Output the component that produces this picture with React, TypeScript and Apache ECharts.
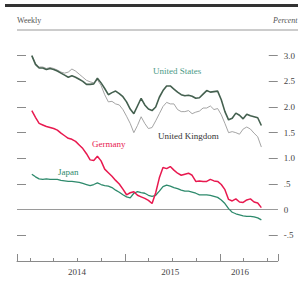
import React, { useEffect, useRef } from "react";
import * as echarts from "echarts";

// Biweekly observations starting 2014-01-08
const START = Date.UTC(2014, 0, 8);
const STEP_DAYS = 14;

const unitedStates = [
  3.0, 2.83, 2.76, 2.76, 2.73, 2.75, 2.73, 2.7, 2.66, 2.62, 2.58, 2.61, 2.58, 2.54, 2.5, 2.44,
  2.44, 2.45, 2.56, 2.47, 2.36, 2.24, 2.28, 2.31, 2.26, 2.2, 2.1, 1.96, 1.87, 2.02, 2.17, 2.04,
  1.96, 1.93, 2.0, 2.19, 2.32, 2.41, 2.41, 2.35, 2.29, 2.24, 2.22, 2.23, 2.21, 2.17, 2.18, 2.25,
  2.32, 2.29, 2.3, 2.31, 2.14, 1.91, 1.75, 1.78, 1.88, 1.84, 1.77, 1.86, 1.83, 1.81, 1.79, 1.64,
];
const unitedKingdom = [
  3.0, 2.85, 2.78, 2.78, 2.75, 2.77, 2.75, 2.72, 2.68, 2.66, 2.68, 2.74, 2.7, 2.64, 2.58, 2.52,
  2.49, 2.47, 2.53, 2.42, 2.24, 2.1, 2.11, 2.06, 2.04, 1.95, 1.82, 1.68, 1.5, 1.64, 1.81, 1.68,
  1.58, 1.6, 1.73, 1.87, 2.01, 2.09, 2.06, 2.06, 1.95, 1.91, 1.91, 1.93, 1.87, 1.9, 1.92, 1.98,
  1.98, 2.02, 1.95, 1.97, 1.85, 1.68, 1.5, 1.52, 1.5, 1.47, 1.57, 1.61, 1.57, 1.49, 1.42, 1.22,
];
const germany = [
  1.93, 1.8, 1.68, 1.65, 1.62, 1.6, 1.58, 1.55, 1.49, 1.44, 1.39, 1.37, 1.33, 1.26, 1.19, 1.09,
  0.97, 0.96, 1.04, 0.95, 0.79, 0.72, 0.65, 0.57, 0.5, 0.4, 0.29, 0.33, 0.35, 0.28, 0.25, 0.22,
  0.18, 0.12, 0.33, 0.62, 0.82, 0.8, 0.84, 0.77, 0.71, 0.67, 0.69, 0.71, 0.67, 0.55, 0.56, 0.55,
  0.55, 0.59, 0.56, 0.55, 0.49, 0.39, 0.2, 0.17, 0.21, 0.15, 0.14, 0.19, 0.21, 0.15, 0.13, 0.04,
];
const japan = [
  0.69, 0.64, 0.6, 0.59, 0.6, 0.59, 0.59, 0.59, 0.57, 0.56, 0.55, 0.55, 0.54, 0.53, 0.51, 0.49,
  0.47, 0.49, 0.52, 0.49, 0.47, 0.46, 0.43, 0.38, 0.34, 0.29, 0.25, 0.23, 0.32, 0.35, 0.33, 0.32,
  0.28, 0.26, 0.28, 0.36, 0.45, 0.48, 0.46, 0.43, 0.41, 0.38, 0.36, 0.36, 0.34, 0.32, 0.29, 0.29,
  0.29, 0.28, 0.26, 0.24, 0.19, 0.12, 0.02, -0.05, -0.08, -0.1, -0.12, -0.13, -0.13, -0.14, -0.16, -0.2,
];

const yTicks = [-0.5, 0, 0.5, 1.0, 1.5, 2.0, 2.5, 3.0];
const yTickLabels = ["-.5", "0", ".5", "1.0", "1.5", "2.0", "2.5", "3.0"];
const yearLabels = ["2014", "2015", "2016"];
const yearLabelDates = ["2014-07-01", "2015-06-24", "2016-03-18"];
const yearTickDates = ["2013-11-12", "2015-01-01", "2016-01-01", "2016-08-10"];
const minorTickDates = [
  "2014-01-01", "2014-04-01", "2014-07-01", "2014-10-01",
  "2015-04-01", "2015-07-01", "2015-10-01", "2016-04-01", "2016-07-01",
];

const X_MIN = "2013-11-12";
const X_MAX = "2016-08-10";

const ts = (s: string) => {
  const [y, m, d] = s.split("-").map(Number);
  return Date.UTC(y, m - 1, d);
};

const dates = unitedStates.map((_, i) => START + i * STEP_DAYS * 86400000);
const pairs = (vals: number[]) => vals.map((v, i) => [dates[i], v]);

const SERIF = "'Liberation Serif', 'DejaVu Serif', serif";

export default function App() {
  const ref = useRef<HTMLDivElement>(null);
  useEffect(() => {
    document.body.style.margin = "0";
    const chart = echarts.init(ref.current!, null, { renderer: "svg" });
    const labelMap: Record<string, string> = {};
    yTicks.forEach((v, i) => (labelMap[String(v)] = yTickLabels[i]));
    const yearOf = (v: number) => {
      let best = "";
      let bd = Infinity;
      yearLabelDates.forEach((d, i) => {
        const dd = Math.abs(ts(d) - v);
        if (dd < bd) {
          bd = dd;
          best = yearLabels[i];
        }
      });
      return best;
    };

    const yBase = {
      type: "value",
      min: -1,
      max: 3.5,
      interval: 0.5,
      splitLine: { show: false },
      axisLine: { show: false, onZero: false },
      axisTick: {
        show: true,
        inside: true,
        length: 9,
        customValues: yTicks,
        lineStyle: { color: "#8a8a8a", width: 1 },
      },
    };

    const xMin = ts(X_MIN);
    const xMax = ts(X_MAX);

    chart.setOption({
      animation: false,
      grid: { left: 17, right: 20, top: 30, bottom: 20 },
      xAxis: [
        {
          type: "value",
          min: xMin,
          max: xMax,
          splitLine: { show: false },
          axisLine: { show: true, onZero: false, lineStyle: { color: "#8a8a8a", width: 1 } },
          axisTick: {
            show: true,
            inside: true,
            length: 7,
            customValues: yearTickDates.map(ts),
            lineStyle: { color: "#8a8a8a" },
          },
          axisLabel: {
            show: true,
            customValues: yearLabelDates.map(ts),
            formatter: (v: number) => yearOf(v),
            fontFamily: SERIF,
            fontSize: 9,
            color: "#444",
            margin: 6,
          },
        },
        {
          type: "value",
          min: xMin,
          max: xMax,
          position: "bottom",
          splitLine: { show: false },
          axisLine: { show: false, onZero: false },
          axisTick: {
            show: true,
            inside: true,
            length: 3,
            customValues: minorTickDates.map(ts),
            lineStyle: { color: "#8a8a8a" },
          },
          axisLabel: { show: false },
        },
      ],
      yAxis: [
        {
          ...yBase,
          position: "right",
          axisLabel: {
            show: true,
            customValues: yTicks,
            formatter: (v: number) => labelMap[String(v)] ?? "",
            fontFamily: SERIF,
            fontSize: 9,
            color: "#444",
            margin: 6,
            align: "left",
          },
        },
        {
          ...yBase,
          position: "left",
          axisLabel: { show: false },
        },
      ],
      series: [
        {
          name: "United Kingdom",
          type: "line",
          data: pairs(unitedKingdom),
          showSymbol: false,
          lineStyle: { color: "#9a9a9a", width: 0.9 },
          z: 2,
        },
        {
          name: "United States",
          type: "line",
          data: pairs(unitedStates),
          showSymbol: false,
          lineStyle: { color: "#44604f", width: 1.6 },
          z: 3,
        },
        {
          name: "Japan",
          type: "line",
          data: pairs(japan),
          showSymbol: false,
          lineStyle: { color: "#2e8a6c", width: 1.3 },
          z: 3,
        },
        {
          name: "Germany",
          type: "line",
          data: pairs(germany),
          showSymbol: false,
          lineStyle: { color: "#e8194f", width: 1.5 },
          z: 4,
          markLine: {
            silent: true,
            symbol: ["none", "none"],
            label: { show: false },
            lineStyle: { color: "#9a9a9a", width: 1, type: "solid" },
            data: [{ yAxis: 0 }],
            z: 1,
          },
        },
      ],
      graphic: [
        { type: "rect", shape: { x: 5, y: 4, width: 293, height: 3 }, style: { fill: "#333" } },
        { type: "line", shape: { x1: 17, y1: 30, x2: 298, y2: 30 }, style: { stroke: "#999", lineWidth: 1 } },
        {
          type: "text",
          x: 17,
          y: 20,
          style: { text: "Weekly", fontFamily: SERIF, fontSize: 8, fill: "#555", verticalAlign: "middle" },
        },
        {
          type: "text",
          x: 273,
          y: 20,
          style: { text: "Percent", fontFamily: SERIF, fontSize: 8, fontStyle: "italic", fill: "#555", verticalAlign: "middle" },
        },
        {
          type: "text",
          x: 153,
          y: 71,
          style: { text: "United States", fontFamily: SERIF, fontSize: 9, fill: "#4a9a86", verticalAlign: "middle" },
        },
        {
          type: "text",
          x: 158,
          y: 136,
          style: { text: "United Kingdom", fontFamily: SERIF, fontSize: 9, fill: "#333", verticalAlign: "middle" },
        },
        {
          type: "text",
          x: 92,
          y: 144,
          style: { text: "Germany", fontFamily: SERIF, fontSize: 9, fill: "#e8194f", verticalAlign: "middle" },
        },
        {
          type: "text",
          x: 58,
          y: 172,
          style: { text: "Japan", fontFamily: SERIF, fontSize: 9, fill: "#2e8a6c", verticalAlign: "middle" },
        },
      ],
    });
    return () => chart.dispose();
  }, []);
  return <div ref={ref} style={{ width: 298, height: 281 }} />;
}
